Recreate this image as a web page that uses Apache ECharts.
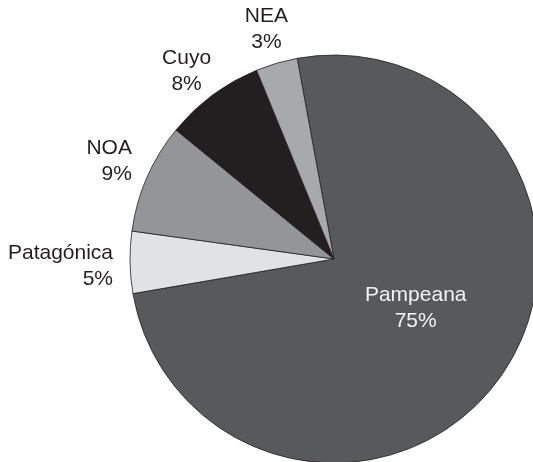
<!DOCTYPE html>
<html>
<head>
<meta charset="utf-8">
<script src="https://cdn.jsdelivr.net/npm/echarts@6/dist/echarts.min.js"></script>
<style>
html,body{margin:0;padding:0;background:#fff;}
#chart{width:533px;height:462px;}
</style>
</head>
<body>
<div id="chart"></div>
<script>
// Data
const regions = ['Pampeana', 'Patagónica', 'NOA', 'Cuyo', 'NEA'];
const shares = [75.1, 4.9, 8.7, 7.9, 3.3];
const sliceColors = ['#58595b', '#e1e2e4', '#939598', '#231f20', '#a7a9ac'];

// label nudges (style only)
const labelTweaks = [
  { align: 'center', dx: -4.4, dy: -11.3 },
  { align: 'right', dx: -17, dy: 3.9 },
  { align: 'right', dx: -15.1, dy: -16.4 },
  { align: 'center', dx: -26, dy: -23.5 },
  { align: 'center', dx: -10.2, dy: -33.8 }
];

const chart = echarts.init(document.getElementById('chart'), null, { renderer: 'canvas' });
const font = '"Liberation Sans", Arial, Helvetica, sans-serif';

const data = regions.map((name, i) => ({
  name: name,
  value: shares[i],
  itemStyle: { color: sliceColors[i] },
  label: i === 0
    ? { position: 'inside', color: '#f2f2f2' }
    : { position: 'outside', color: '#231f20' }
}));

chart.setOption({
  animation: false,
  backgroundColor: '#ffffff',
  series: [{
    type: 'pie',
    center: [334, 259],
    radius: [0, 204],
    startAngle: 100.4,
    clockwise: true,
    avoidLabelOverlap: false,
    itemStyle: { borderColor: '#231f20', borderWidth: 0.8 },
    label: {
      show: true,
      fontFamily: font,
      fontSize: 21,
      lineHeight: 26,
      distanceToLabelLine: 0,
      overflow: 'none',
      formatter: p => p.name + '\n' + Math.round(p.value) + '%'
    },
    labelLine: { show: false, length: 0, length2: 0 },
    labelLayout: function (params) {
      const t = labelTweaks[params.dataIndex];
      return { align: t.align, dx: t.dx, dy: t.dy };
    },
    emphasis: { disabled: true },
    data: data
  }]
});
</script>
</body>
</html>
